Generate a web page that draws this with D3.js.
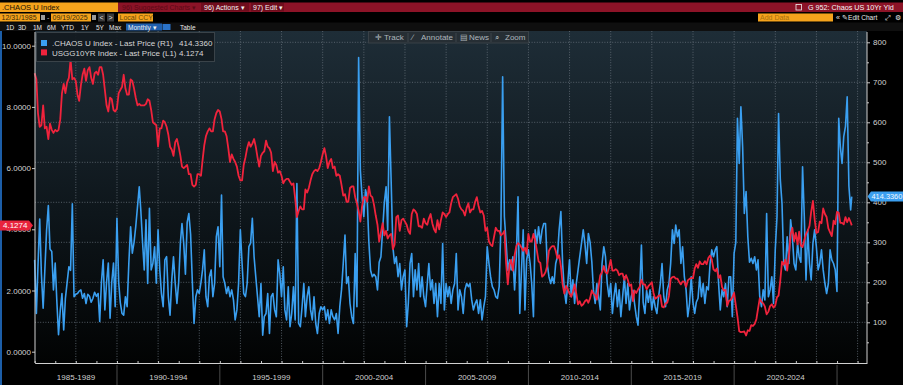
<!DOCTYPE html>
<html>
<head>
<meta charset="utf-8">
<style>
  body { margin: 0; background: #000; overflow: hidden; }
  svg { display: block; font-family: "Liberation Sans", Arial, sans-serif; }
  .tick text { fill: #d2d2d2; font-size: 8px; }
  .tick line { stroke: #c8c8c8; }
</style>
</head>
<body>
<svg id="chart" width="903" height="385"></svg>
<script src="https://cdn.jsdelivr.net/npm/d3@7/dist/d3.min.js"></script>
<script>
// monthly closes, first value is 12/31/1985, last is 09/19/2025
var chaosIndex = [
  256,
  122, 240, 358, 220, 135, 230, 330, 392, 283, 277, 181, 248,
  147, 69, 130, 172, 81, 160, 200, 239, 230, 396, 164, 170,
  172, 178, 181, 160, 172, 147, 170, 165, 150, 160, 175, 165,
  172, 102, 200, 256, 131, 200, 248, 110, 200, 248, 139, 360,
  200, 150, 122, 118, 164, 139, 250, 339, 273, 300, 339, 389,
  439, 380, 300, 231, 356, 197, 385, 231, 247, 289, 198, 331,
  231, 172, 139, 256, 264, 164, 118, 206, 264, 197, 147, 200,
  300, 347, 297, 220, 350, 372, 320, 200, 97, 164, 181, 172,
  200, 231, 281, 164, 139, 214, 231, 164, 197, 314, 339, 239,
  418, 214, 197, 172, 189, 164, 181, 156, 106, 131, 197, 331,
  247, 172, 164, 197, 289, 298, 360, 264, 214, 164, 114, 197,
  68, 114, 122, 172, 72, 164, 172, 131, 114, 256, 222, 164,
  239, 131, 106, 189, 89, 122, 189, 106, 447, 97, 89, 139,
  197, 114, 164, 189, 131, 106, 164, 97, 72, 122, 139, 131,
  139, 106, 131, 97, 131, 114, 106, 122, 72, 139, 181, 247,
  318, 197, 214, 147, 114, 97, 272, 139, 762, 480, 414, 364,
  431, 414, 300, 230, 214, 220, 214, 181, 250, 264, 330, 400,
  439, 330, 614, 456, 289, 247, 264, 214, 247, 181, 214, 231,
  89, 147, 247, 272, 164, 231, 181, 247, 164, 214, 164, 139,
  197, 247, 181, 206, 147, 197, 114, 197, 147, 297, 131,
  197, 164, 189, 147, 181, 197, 272, 131, 181, 164, 122, 181,
  197, 189, 197, 156, 131, 147, 156, 122, 156, 106, 139, 164,
  289, 247, 214, 189, 181, 164, 160, 189, 347, 714, 364, 300,
  230, 256, 231, 264, 181, 264, 414, 122, 231, 331, 131, 256,
  281, 247, 197, 114, 331, 297, 339, 297, 331, 347, 347, 247,
  214, 197, 214, 197, 247, 264, 331, 377, 247, 181, 147, 197,
  256, 164, 206, 147, 197, 231, 264, 297, 331, 297, 247, 322,
  300, 250, 181, 147, 197, 164, 131, 247, 289, 264, 197, 164,
  197, 122, 164, 197, 139, 181, 114, 164, 214, 147, 197, 131,
  164, 180, 147, 114, 93, 181, 293, 150, 122, 180, 150, 181,
  131, 164, 139, 122, 164, 197, 247, 164, 139, 181, 197, 247,
  331, 297, 343, 314, 331, 247, 289, 214, 181, 114, 147, 214,
  150, 122, 150, 160, 214, 164, 197, 147, 189, 181, 247, 281,
  264, 281, 289, 197, 131, 181, 164, 197, 139, 214, 214, 114,
  272, 300, 610, 497, 639, 539, 372, 427, 314, 250, 260, 247,
  264, 231, 256, 164, 139, 181, 156, 372, 164, 181, 214, 147,
  281, 364, 622, 456, 397, 247, 231, 314, 247, 356, 314, 247,
  231, 297, 264, 250, 489, 364, 206, 331, 247, 206, 297, 331,
  289, 231, 247, 281, 231, 197, 172, 197, 281, 256, 247, 231,
  177, 610, 540, 497, 564, 590, 664, 440, 381, 414.336
];

var usgg10yr = [
  9.10,
  8.90, 7.80, 7.35, 7.40, 8.05, 7.30, 7.35, 6.95, 7.45, 7.25, 7.15, 7.25,
  7.20, 7.25, 7.60, 8.45, 8.75, 8.45, 8.80, 8.95, 9.55, 8.90, 8.95, 8.85,
  8.40, 8.20, 8.70, 9.05, 9.25, 8.85, 9.20, 9.30, 8.95, 8.75, 9.10, 9.15,
  9.05, 9.30, 9.30, 9.05, 8.55, 8.05, 7.85, 8.30, 8.25, 7.90, 7.85, 7.95,
  8.45, 8.55, 8.65, 9.05, 8.60, 8.40, 8.40, 8.90, 8.85, 8.60, 8.30, 8.05,
  8.10, 8.05, 8.05, 8.05, 8.10, 8.25, 8.20, 7.90, 7.50, 7.45, 7.40, 6.70,
  7.30, 7.30, 7.55, 7.50, 7.35, 7.10, 6.70, 6.60, 6.40, 6.85, 6.95, 6.70,
  6.40, 6.05, 6.00, 6.05, 6.10, 5.80, 5.80, 5.45, 5.40, 5.45, 5.80, 5.80,
  5.75, 6.25, 6.75, 7.05, 7.20, 7.30, 7.20, 7.20, 7.60, 7.80, 7.90, 7.85,
  7.60, 7.20, 7.20, 7.05, 6.65, 6.20, 6.45, 6.30, 6.20, 6.05, 5.75, 5.60,
  5.60, 6.10, 6.35, 6.65, 6.85, 6.70, 6.80, 6.95, 6.70, 6.35, 6.05, 6.40,
  6.50, 6.55, 6.90, 6.70, 6.65, 6.50, 5.90, 6.20, 6.10, 5.85, 5.90, 5.75,
  5.50, 5.60, 5.65, 5.65, 5.55, 5.45, 5.50, 5.00, 4.40, 4.60, 4.75, 4.65,
  4.65, 5.30, 5.20, 5.35, 5.60, 5.80, 5.90, 5.95, 5.90, 6.00, 6.20, 6.45,
  6.65, 6.40, 6.00, 6.20, 6.30, 6.00, 6.05, 5.75, 5.80, 5.75, 5.45, 5.10,
  5.15, 4.90, 4.90, 5.35, 5.40, 5.40, 5.05, 4.85, 4.60, 4.25, 4.75, 5.05,
  5.05, 4.90, 5.40, 5.10, 5.05, 4.80, 4.45, 4.15, 3.60, 3.90, 4.20, 3.80,
  3.95, 3.70, 3.80, 3.85, 3.35, 3.50, 4.40, 4.45, 3.95, 4.30, 4.35, 4.25,
  4.15, 3.95, 3.85, 4.50, 4.65, 4.60, 4.50, 4.10, 4.10, 4.05, 4.35, 4.20,
  4.15, 4.35, 4.50, 4.20, 4.00, 3.90, 4.30, 4.00, 4.30, 4.55, 4.50, 4.40,
  4.50, 4.55, 4.85, 5.05, 5.10, 5.15, 5.00, 4.75, 4.65, 4.60, 4.45, 4.70,
  4.85, 4.55, 4.65, 4.65, 4.90, 5.05, 4.75, 4.55, 4.60, 4.45, 3.95, 4.05,
  3.60, 3.50, 3.45, 3.75, 4.05, 3.95, 3.95, 3.80, 3.85, 3.95, 2.90, 2.20,
  2.85, 3.00, 2.65, 3.15, 3.45, 3.55, 3.50, 3.40, 3.30, 3.40, 3.20, 3.85,
  3.60, 3.60, 3.85, 3.65, 3.30, 2.95, 2.90, 2.45, 2.50, 2.60, 2.80, 3.30,
  3.40, 3.45, 3.45, 3.30, 3.05, 3.15, 2.80, 2.20, 1.90, 2.15, 2.05, 1.90,
  1.80, 1.95, 2.20, 1.90, 1.55, 1.65, 1.50, 1.55, 1.65, 1.70, 1.60, 1.75,
  2.00, 1.90, 1.85, 1.70, 2.15, 2.50, 2.60, 2.80, 2.60, 2.55, 2.75, 3.00,
  2.65, 2.65, 2.70, 2.65, 2.50, 2.55, 2.55, 2.35, 2.50, 2.35, 2.15, 2.20,
  1.65, 2.00, 1.92, 2.03, 2.12, 2.35, 2.20, 2.20, 2.04, 2.14, 2.20, 2.27,
  1.92, 1.73, 1.77, 1.83, 1.85, 1.47, 1.45, 1.58, 1.60, 1.83, 2.38, 2.44,
  2.45, 2.39, 2.39, 2.28, 2.20, 2.30, 2.29, 2.12, 2.33, 2.38, 2.41, 2.40,
  2.72, 2.86, 2.74, 2.95, 2.86, 2.86, 2.96, 2.86, 3.06, 3.14, 3.01, 2.69,
  2.63, 2.72, 2.41, 2.50, 2.12, 2.00, 2.02, 1.50, 1.66, 1.69, 1.78, 1.92,
  1.51, 1.15, 0.67, 0.64, 0.65, 0.66, 0.53, 0.70, 0.68, 0.87, 0.84, 0.91,
  1.07, 1.40, 1.74, 1.63, 1.58, 1.47, 1.22, 1.31, 1.49, 1.55, 1.44, 1.51,
  1.78, 1.83, 2.34, 2.94, 2.84, 3.01, 2.65, 3.19, 3.83, 4.05, 3.61, 3.88,
  3.51, 3.92, 3.47, 3.42, 3.64, 3.84, 3.96, 4.11, 4.57, 4.93, 4.33, 3.88,
  3.91, 4.25, 4.20, 4.68, 4.50, 4.40, 4.03, 3.90, 3.78, 4.28, 4.17, 4.57,
  4.54, 4.21, 4.21, 4.16, 4.40, 4.23, 4.37, 4.23, 4.1274
];

var periodStarts = [1985, 1990, 1995, 2000, 2005, 2010, 2015, 2020];
var periodLabels = ["1985-1989", "1990-1994", "1995-1999", "2000-2004",
                    "2005-2009", "2010-2014", "2015-2019", "2020-2024"];
var leftTicks = [0, 2, 4, 6, 8, 10];
var rightTicks = [100, 200, 300, 400, 500, 600, 700, 800];
var rightMinor = [50, 150, 250, 350, 450, 550, 650, 750];

var lastChaos = 414.336, lastYield = 4.1274;
var firstMonth = new Date(1986, 0, 1), lastDay = new Date(2025, 8, 19);

var blue = "#3a9ff0", red = "#f0233c";

// month end dates, the final point is the partial month
function monthEnds(n) {
  var out = [];
  for (var i = 0; i < n - 1; i++)
    out.push(d3.timeDay.offset(d3.timeMonth.offset(firstMonth, i), -1));
  out.push(lastDay);
  return out;
}

var svg = d3.select("#chart");
var plot = {left: 35, right: 867, top: 31, bottom: 363};

var x = d3.scaleTime()
    .domain([new Date(1986, 0, 1), new Date(2026, 5, 17)])
    .range([34.7, plot.right]);
var yL = d3.scaleLinear().domain([0, 10]).range([351.7, 45.7]);
var yR = d3.scaleLinear().domain([0, 800]).range([362.3, 42.3]);

// background
var defs = svg.append("defs");
var grad = defs.append("linearGradient").attr("id", "bg")
    .attr("x1", 0).attr("y1", 0).attr("x2", 0).attr("y2", 1);
grad.append("stop").attr("offset", "0%").attr("stop-color", "#1e2d37");
grad.append("stop").attr("offset", "55%").attr("stop-color", "#0e161b");
grad.append("stop").attr("offset", "100%").attr("stop-color", "#020303");

svg.append("rect").attr("width", 903).attr("height", 385).attr("fill", "#000");
svg.append("rect")
    .attr("x", plot.left).attr("y", plot.top)
    .attr("width", plot.right - plot.left).attr("height", plot.bottom - plot.top)
    .attr("fill", "url(#bg)");
svg.append("rect").attr("x", 0).attr("y", 30).attr("width", 2).attr("height", 355)
    .attr("fill", "#1c5ea8");

// grid
var grid = svg.append("g").attr("stroke", "#66707a").attr("stroke-dasharray", "1,1.6")
    .attr("stroke-width", 0.8);
grid.selectAll(".h").data(rightTicks).enter().append("line")
    .attr("x1", plot.left).attr("x2", plot.right)
    .attr("y1", function(d) { return yR(d); }).attr("y2", function(d) { return yR(d); });
var gridYears = d3.range(1988, 2027, 2);
grid.selectAll(".v").data(gridYears).enter().append("line")
    .attr("y1", plot.top).attr("y2", plot.bottom)
    .attr("x1", function(d) { return x(new Date(d, 0, 1)); })
    .attr("x2", function(d) { return x(new Date(d, 0, 1)); });

// series
var chaosData = monthEnds(chaosIndex.length).map(function(d, i) { return {date: d, v: chaosIndex[i]}; });
var yieldData = monthEnds(usgg10yr.length).map(function(d, i) { return {date: d, v: usgg10yr[i]}; });

svg.append("path").datum(chaosData)
    .attr("fill", "none").attr("stroke", blue).attr("stroke-width", 1.6)
    .attr("stroke-linejoin", "round")
    .attr("d", d3.line().x(function(d) { return x(d.date); }).y(function(d) { return yR(d.v); }));

svg.append("path").datum(yieldData)
    .attr("fill", "none").attr("stroke", red).attr("stroke-width", 1.8)
    .attr("stroke-linejoin", "round")
    .attr("d", d3.line().x(function(d) { return x(d.date); }).y(function(d) { return yL(d.v); }));

// axes
var leftAxis = svg.append("g").attr("transform", "translate(" + plot.left + ",0)")
    .call(d3.axisLeft(yL).tickValues(leftTicks).tickFormat(d3.format(".4f")).tickSize(3).tickPadding(1));
leftAxis.select(".domain").remove();

var rightAxis = svg.append("g").attr("transform", "translate(" + plot.right + ",0)")
    .call(d3.axisRight(yR).tickValues(rightTicks).tickFormat(d3.format("d")).tickSize(3).tickPadding(3));
rightAxis.select(".domain").remove();
svg.append("g").attr("transform", "translate(" + plot.right + ",0)")
    .call(d3.axisRight(yR).tickValues(rightMinor).tickFormat("").tickSize(2))
    .select(".domain").remove();

var bottomAxis = svg.append("g").attr("transform", "translate(0," + plot.bottom + ")")
    .call(d3.axisBottom(x).ticks(d3.timeYear.every(1)).tickFormat("").tickSizeInner(-2).tickSizeOuter(0));
bottomAxis.select(".domain").attr("stroke", "#d0d0d0");
bottomAxis.selectAll(".tick line").attr("stroke", "#bcbcbc");

svg.append("line").attr("x1", plot.left).attr("x2", plot.left)
    .attr("y1", plot.top + 1).attr("y2", plot.bottom).attr("stroke", "#d0d0d0");
svg.append("line").attr("x1", plot.right).attr("x2", plot.right)
    .attr("y1", plot.top + 1).attr("y2", plot.bottom).attr("stroke", "#d0d0d0");

// period strip
svg.selectAll(".sep").data(periodStarts.slice(1).concat([2025])).enter().append("line")
    .attr("x1", function(d) { return x(new Date(d, 0, 1)); })
    .attr("x2", function(d) { return x(new Date(d, 0, 1)); })
    .attr("y1", 365).attr("y2", 385).attr("stroke", "#4a4a4a");
svg.selectAll(".period").data(periodStarts).enter().append("text")
    .attr("x", function(d) {
      var a = Math.max(x(new Date(d, 0, 1)), plot.left), b = x(new Date(d + 5, 0, 1));
      return (a + b) / 2;
    })
    .attr("y", 380).attr("text-anchor", "middle").attr("font-size", 8).attr("fill", "#cfcfcf")
    .text(function(d, i) { return periodLabels[i]; });

// last value tags
var ly = yL(lastYield);
svg.append("path").attr("fill", "#e8243c")
    .attr("d", "M0," + (ly - 5) + "H29L33," + ly + "L29," + (ly + 5) + "H0Z");
svg.append("text").attr("x", 3).attr("y", ly + 3).attr("font-size", 8).attr("fill", "#fff")
    .text(lastYield.toFixed(4));

var ry = yR(lastChaos);
svg.append("path").attr("fill", "#3b9ff0")
    .attr("d", "M867.5," + ry + "L871," + (ry - 5) + "H903V" + (ry + 5) + "H871Z");
svg.append("text").attr("x", 871.5).attr("y", ry + 2.8).attr("font-size", 7.4).attr("fill", "#f2f8ff")
    .text(lastChaos.toFixed(4));

// legend
var legend = svg.append("g");
legend.append("rect").attr("x", 36.5).attr("y", 32.5).attr("width", 178).attr("height", 29)
    .attr("fill", "#131a1f").attr("fill-opacity", 0.9).attr("stroke", "#3a4349");
var legendRows = [
  {name: ".CHAOS U Index - Last Price (R1)", value: lastChaos.toFixed(4), color: blue},
  {name: "USGG10YR Index - Last Price (L1)", value: lastYield.toFixed(4), color: red}
];
legendRows.forEach(function(r, i) {
  legend.append("rect").attr("x", 41).attr("y", 40 + i * 9.4).attr("width", 6).attr("height", 6)
      .attr("fill", r.color);
  legend.append("text").attr("x", 52).attr("y", 46.3 + i * 9.4).attr("font-size", 8)
      .attr("fill", "#d6d6d6").text(r.name);
  legend.append("text").attr("x", 179).attr("y", 46.3 + i * 9.4).attr("font-size", 8)
      .attr("fill", "#d6d6d6").text(r.value);
});

// chart toolbar
var tools = svg.append("g");
tools.append("rect").attr("x", 368.5).attr("y", 31.5).attr("width", 160).attr("height", 11.5)
    .attr("fill", "#262e34").attr("stroke", "#394147");
[[375, "\u271B"], [384, "Track"], [412, "\u2215"], [421, "Annotate"], [460, "\u25A4"],
 [469, "News"], [495, "\u2315"], [505, "Zoom"]].forEach(function(t) {
  tools.append("text").attr("x", t[0]).attr("y", 40.2).attr("font-size", 8)
      .attr("fill", "#aeb6bc").text(t[1]);
});
[408, 456, 491].forEach(function(sx) {
  tools.append("line").attr("x1", sx).attr("x2", sx).attr("y1", 33).attr("y2", 42)
      .attr("stroke", "#3d454b");
});

// terminal header rows
var head = svg.append("g").attr("font-size", 7);
head.append("rect").attr("x", 0).attr("y", 2.5).attr("width", 118).attr("height", 9.5).attr("fill", "#f5a31c");
head.append("rect").attr("x", 118).attr("y", 2.5).attr("width", 785).attr("height", 9.5).attr("fill", "#8c1327");
head.append("text").attr("x", 2).attr("y", 10.2).attr("font-size", 7.6).attr("fill", "#1a1205").text(".CHAOS U Index");
head.append("text").attr("x", 122).attr("y", 10).attr("fill", "#5c0a16").text("96) Suggested Charts \u25BE");
head.append("rect").attr("x", 201).attr("y", 3).attr("width", 48).attr("height", 8.5).attr("fill", "#700d1d");
head.append("text").attr("x", 204).attr("y", 10).attr("fill", "#f2f2f2").text("96) Actions \u25BE");
head.append("rect").attr("x", 251).attr("y", 3).attr("width", 33).attr("height", 8.5).attr("fill", "#700d1d");
head.append("text").attr("x", 253).attr("y", 10).attr("fill", "#f2f2f2").text("97) Edit \u25BE");
head.append("rect").attr("x", 796).attr("y", 4.5).attr("width", 5.5).attr("height", 5.5)
    .attr("fill", "none").attr("stroke", "#f0f0f0").attr("stroke-width", 0.8);
head.append("text").attr("x", 808).attr("y", 10).attr("font-size", 7.2).attr("fill", "#f5f5f5")
    .text("G 952: Chaos US 10Yr Yld");

head.append("rect").attr("x", 0).attr("y", 13.5).attr("width", 40).attr("height", 8).attr("fill", "#f5a31c");
head.append("text").attr("x", 1.5).attr("y", 20.3).attr("fill", "#3b2a06").text("12/31/1985");
head.append("rect").attr("x", 41).attr("y", 15).attr("width", 4).attr("height", 5).attr("fill", "#9a9a9a");
head.append("text").attr("x", 47).attr("y", 20.3).attr("fill", "#cccccc").text("-");
head.append("rect").attr("x", 51).attr("y", 13.5).attr("width", 40).attr("height", 8).attr("fill", "#f5a31c");
head.append("text").attr("x", 52.5).attr("y", 20.3).attr("fill", "#3b2a06").text("09/19/2025");
head.append("rect").attr("x", 92).attr("y", 15).attr("width", 4).attr("height", 5).attr("fill", "#9a9a9a");
head.append("rect").attr("x", 98).attr("y", 13.5).attr("width", 7).attr("height", 8).attr("fill", "#3a3a3a");
head.append("text").attr("x", 99.6).attr("y", 20.2).attr("fill", "#e0e0e0").text("<");
head.append("rect").attr("x", 107).attr("y", 13.5).attr("width", 7).attr("height", 8).attr("fill", "#3a3a3a");
head.append("text").attr("x", 108.6).attr("y", 20.2).attr("fill", "#e0e0e0").text(">");
head.append("rect").attr("x", 118).attr("y", 13.5).attr("width", 35).attr("height", 8).attr("fill", "#f5a31c");
head.append("text").attr("x", 119.5).attr("y", 20.3).attr("fill", "#6a4a08").text("Local CCY");

head.append("rect").attr("x", 758).attr("y", 13.5).attr("width", 75).attr("height", 8).attr("fill", "#f5a31c");
head.append("text").attr("x", 760).attr("y", 20.3).attr("fill", "#a8700f").text("Add Data");
head.append("text").attr("x", 836).attr("y", 20.3).attr("fill", "#e6e6e6").text("\u00AB");
head.append("text").attr("x", 842).attr("y", 20.3).attr("fill", "#e6e6e6").text("\u270E");
head.append("text").attr("x", 848).attr("y", 20.3).attr("font-size", 6.6).attr("fill", "#e6e6e6").text("Edit Chart");
head.append("text").attr("x", 884.5).attr("y", 20.3).attr("fill", "#e6e6e6").text("\u2922");
head.append("text").attr("x", 894.5).attr("y", 20.3).attr("fill", "#e6e6e6").text("\u2699");

head.append("rect").attr("x", 0).attr("y", 22.5).attr("width", 903).attr("height", 8.5).attr("fill", "#0f0f0f");
[[6, "1D"], [18, "3D"], [33, "1M"], [47, "6M"], [61, "YTD"], [81, "1Y"], [96, "5Y"], [109, "Max"]]
  .forEach(function(t) {
    head.append("text").attr("x", t[0]).attr("y", 29.5).attr("font-size", 6.5)
        .attr("fill", "#e8e8e8").text(t[1]);
  });
head.append("rect").attr("x", 126).attr("y", 23.5).attr("width", 36).attr("height", 7).attr("fill", "#1f5fae");
head.append("text").attr("x", 128).attr("y", 29.5).attr("font-size", 6.5).attr("fill", "#f0f0f0").text("Monthly \u25BE");
head.append("rect").attr("x", 162.5).attr("y", 24).attr("width", 8).attr("height", 6).attr("fill", "#2a72c8");
head.append("text").attr("x", 180).attr("y", 29.5).attr("font-size", 6.5).attr("fill", "#e8e8e8").text("Table");
</script>
</body>
</html>
